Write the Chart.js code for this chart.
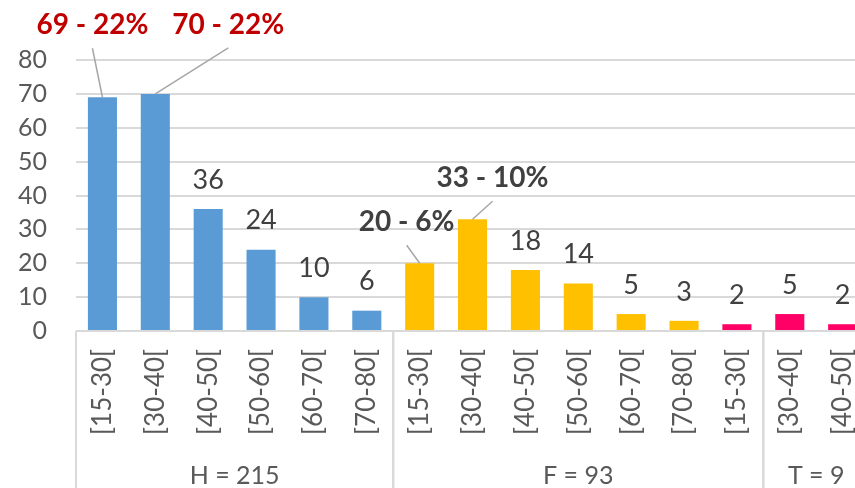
<!DOCTYPE html>
<html>
<head>
<meta charset="utf-8">
<script src="https://cdn.jsdelivr.net/npm/chart.js@4.4.0/dist/chart.umd.min.js"></script>
<style>
    html, body { margin: 0; padding: 0; background: #fff; overflow: hidden; }
    #wrap { position: relative; width: 892px; height: 488px; }
</style>
</head>
<body>
<div id="wrap"><canvas id="ages"></canvas></div>
<script>
// data
const categories = ['[15-30[', '[30-40[', '[40-50[', '[50-60[', '[60-70[', '[70-80[',
    '[15-30[', '[30-40[', '[40-50[', '[50-60[', '[60-70[', '[70-80[',
    '[15-30[', '[30-40[', '[40-50['];
const counts = [69, 70, 36, 24, 10, 6, 20, 33, 18, 14, 5, 3, 2, 5, 2];
const shares = [22, 22, null, null, null, null, 6, 10, null, null, null, null, null, null, null];
const sexes = ['H', 'H', 'H', 'H', 'H', 'H', 'F', 'F', 'F', 'F', 'F', 'F', 'T', 'T', 'T'];
const groupLabels = ['H = 215', 'F = 93', 'T = 9'];
const groupSpans = [6, 7, 2];
const yTicks = [0, 10, 20, 30, 40, 50, 60, 70, 80];

const colors = { H: '#5B9BD5', F: '#FFC000', T: '#FF0066' };
const calloutColor = { H: '#C00000', F: '#404040', T: '#404040' };
// where the bold callouts sit, relative to the top of their bar
const calloutOffset = { 0: [-10, -72], 1: [73, -69], 6: [-13, -41], 7: [20, -41] };

const FONT = 'Lato, "Open Sans", sans-serif';
const grey = '#D9D9D9';

const labelsPlugin = {
    id: 'labels',
    afterDraw(chart) {
        const ctx = chart.ctx;
        const area = chart.chartArea;
        const xs = chart.scales.x;
        const bars = chart.getDatasetMeta(0).data;
        ctx.save();

        // value labels and callouts
        ctx.textAlign = 'center';
        ctx.textBaseline = 'middle';
        bars.forEach((bar, i) => {
            if (shares[i] == null) {
                ctx.font = '27px ' + FONT;
                ctx.fillStyle = '#404040';
                ctx.fillText(String(counts[i]), bar.x, bar.y - 29);
            } else {
                const off = calloutOffset[i] || [0, -40];
                const lx = bar.x + off[0];
                const ly = bar.y + off[1];
                ctx.strokeStyle = '#A6A6A6';
                ctx.lineWidth = 1.5;
                ctx.beginPath();
                ctx.moveTo(lx, ly + 23);
                ctx.lineTo(bar.x, bar.y);
                ctx.stroke();
                ctx.font = 'bold 28px ' + FONT;
                ctx.fillStyle = calloutColor[sexes[i]];
                ctx.fillText(counts[i] + ' - ' + shares[i] + '%', lx, ly);
            }
        });

        // group boxes under the axis
        const step = xs.getPixelForValue(1) - xs.getPixelForValue(0);
        ctx.strokeStyle = grey;
        ctx.lineWidth = 2;
        let start = 0;
        groupSpans.forEach((span, g) => {
            const x0 = xs.getPixelForValue(start) - step / 2;
            const x1 = xs.getPixelForValue(start + span - 1) + step / 2;
            ctx.beginPath();
            ctx.moveTo(x0, area.bottom);
            ctx.lineTo(x0, chart.height);
            ctx.moveTo(x1, area.bottom);
            ctx.lineTo(x1, chart.height);
            ctx.stroke();
            ctx.font = '25px ' + FONT;
            ctx.fillStyle = '#595959';
            ctx.fillText(groupLabels[g], (x0 + x1) / 2, 476);
            start += span;
        });
        ctx.restore();
    }
};

new Chart(document.getElementById('ages'), {
    type: 'bar',
    data: {
        labels: categories,
        datasets: [{
            data: counts,
            backgroundColor: sexes.map(s => colors[s]),
            borderWidth: 0,
            categoryPercentage: 1,
            barPercentage: 0.55
        }]
    },
    options: {
        responsive: true,
        maintainAspectRatio: false,
        animation: false,
        layout: { padding: { top: 60, right: 4, bottom: 0, left: 0 } },
        plugins: { legend: { display: false }, tooltip: { enabled: false } },
        scales: {
            x: {
                grid: { display: false, drawTicks: false },
                border: { display: false },
                ticks: {
                    minRotation: 90, maxRotation: 90, padding: 18, autoSkip: false,
                    color: '#595959', font: { family: FONT, size: 26 }
                },
                afterFit(scale) { scale.height = 157; }
            },
            y: {
                min: 0, max: 80,
                afterBuildTicks(scale) { scale.ticks = yTicks.map(v => ({ value: v })); },
                grid: { color: grey, lineWidth: 2, drawTicks: false },
                border: { display: false },
                ticks: { padding: 29, color: '#595959', font: { family: FONT, size: 25 } },
                afterFit(scale) { scale.width = 76; }
            }
        }
    },
    plugins: [labelsPlugin]
});
</script>
</body>
</html>
